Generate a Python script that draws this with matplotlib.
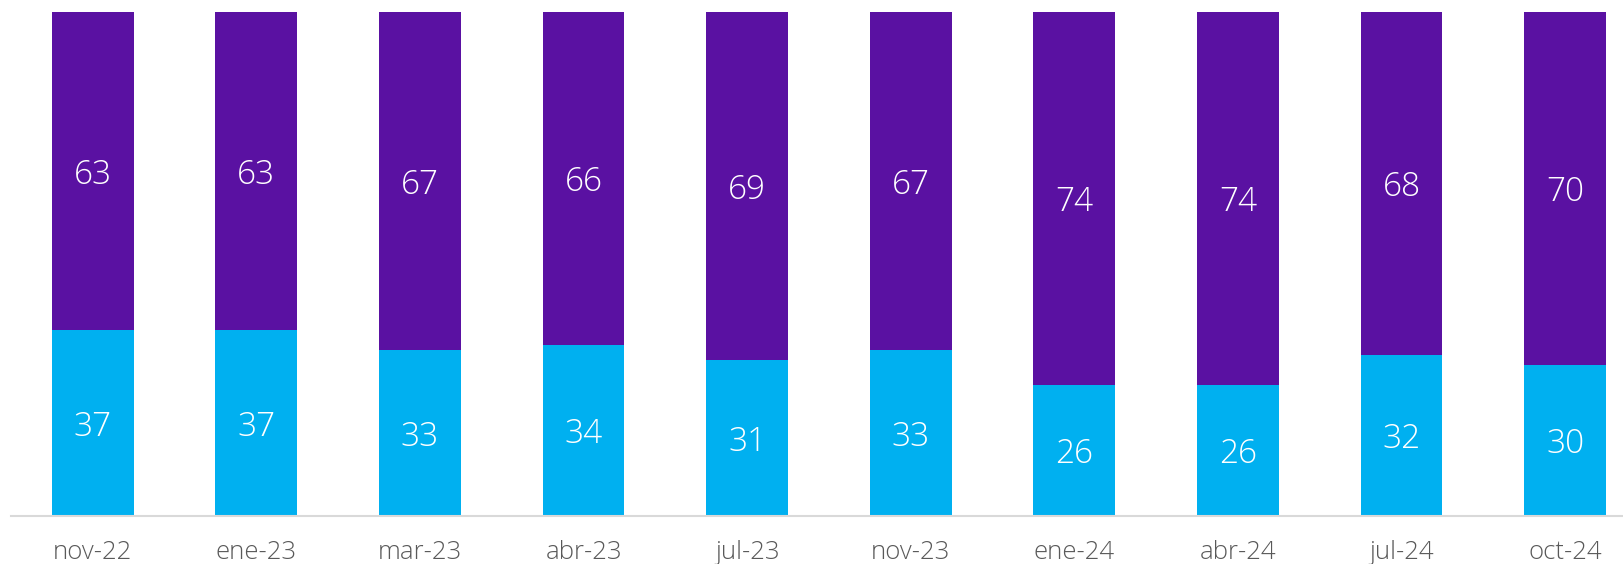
import matplotlib
matplotlib.use("Agg")
import matplotlib.pyplot as plt

categories = ["nov-22", "ene-23", "mar-23", "abr-23", "jul-23", "nov-23", "ene-24", "abr-24", "jul-24", "oct-24"]
bottom_vals = [37, 37, 33, 34, 31, 33, 26, 26, 32, 30]
top_vals = [63, 63, 67, 66, 69, 67, 74, 74, 68, 70]

cyan = "#00B0F0"
purple = "#5A11A2"

W, H = 1624, 564
fig = plt.figure(figsize=(W / 100, H / 100), dpi=100)
ax = fig.add_axes([11 / W, (H - 516) / H, 1 - 11 / W, (516 - 12) / H])

x = list(range(len(categories)))
bw = 0.5
ax.bar(x, bottom_vals, width=bw, color=cyan)
ax.bar(x, top_vals, width=bw, bottom=bottom_vals, color=purple)

font = dict(family=["Open Sans", "DejaVu Sans"], fontweight="light")
for i in x:
    ax.text(i, bottom_vals[i] / 2, str(bottom_vals[i]), ha="center", va="center_baseline",
            color="white", fontsize=24, **font)
    ax.text(i, bottom_vals[i] + top_vals[i] / 2, str(top_vals[i]), ha="center", va="center_baseline",
            color="white", fontsize=24, **font)

ax.set_xlim(-0.5, -0.5 + (W - 11) / 163.6)
ax.set_ylim(0, 100)
ax.set_xticks(x)
ax.set_xticklabels(categories, color="#595959", fontsize=18.5, **font)
ax.tick_params(axis="x", length=0, pad=17)
ax.set_yticks([])
for s in ["top", "right", "left"]:
    ax.spines[s].set_visible(False)
ax.spines["bottom"].set_color("#D9D9D9")
ax.spines["bottom"].set_linewidth(1.5)

fig.savefig("out.png", dpi=100)
